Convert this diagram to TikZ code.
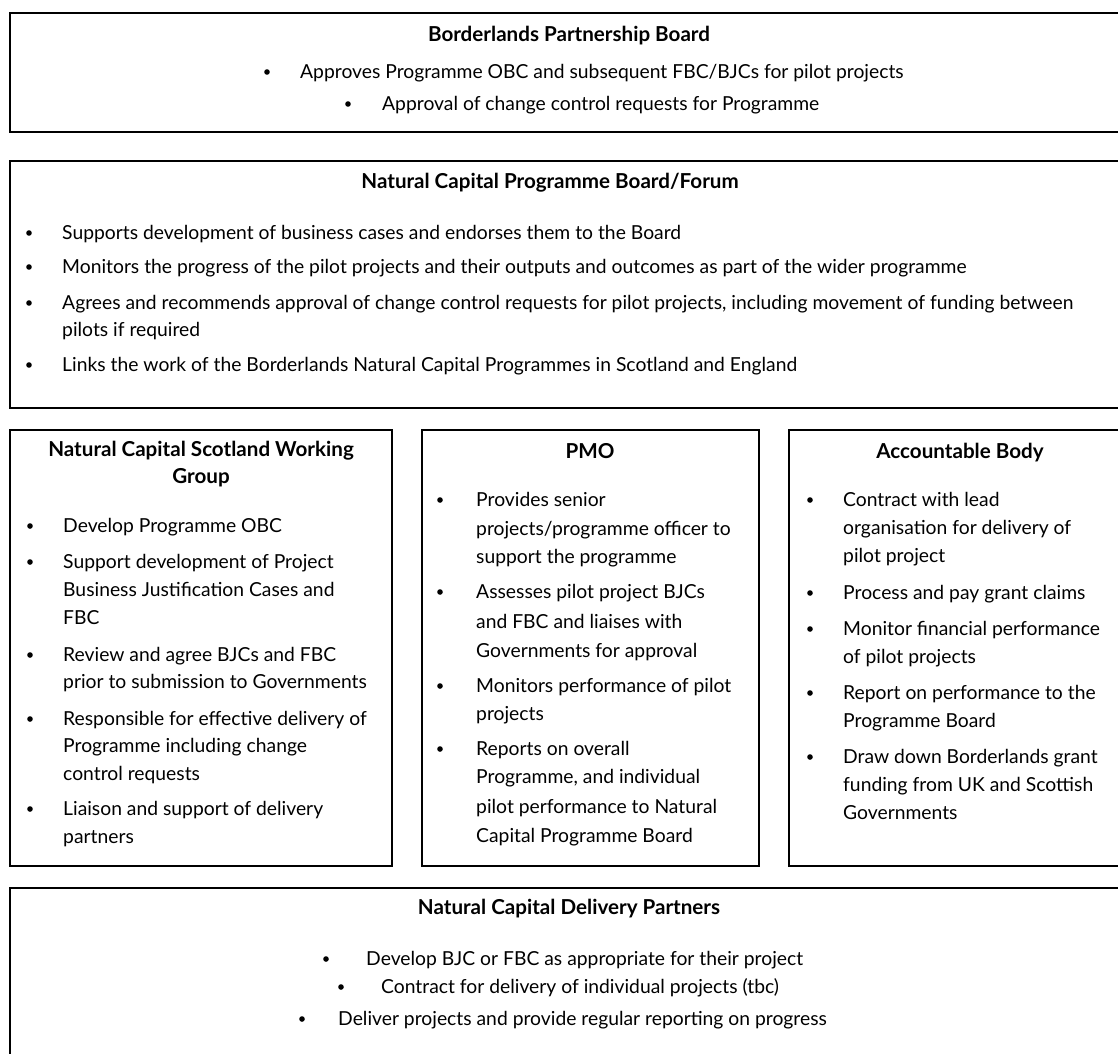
\documentclass[tikz,border=0pt]{standalone}
\usepackage{fontspec}
\setmainfont{Lato}
\newcommand{\panelfont}{\fontsize{19.3}{23}\selectfont}
\newcommand{\headfont}{\fontsize{20.6}{24}\selectfont\bfseries}
\tikzset{
	panel/.style={draw, line width=1.6pt},
	txt/.style={inner sep=0pt, anchor=base west, font=\panelfont},
	bul/.style={circle, fill, inner sep=0pt, minimum size=5.6pt, yshift=6pt},
	head/.style={inner sep=0pt, anchor=base, font=\headfont},
}
\begin{document}
\begin{tikzpicture}[x=1pt, y=-1pt]
	\useasboundingbox (0,0) rectangle (1118,1053);
	\clip (0,0) rectangle (1118,1053);

	% frames
	\draw[panel] (10,13) rectangle (1130,132);
	\draw[panel] (10,161) rectangle (1130,408);
	\draw[panel] (10,430) rectangle (392,866);
	\draw[panel] (422,430) rectangle (759,866);
	\draw[panel] (789,430) rectangle (1130,866);
	\draw[panel] (10,888) rectangle (1130,1070);

	% partnership board
	\node[head] (pbtitle) at (569,41) {Borderlands Partnership Board};
	\node[bul] (pbdot1) at (267,78) {};
	\node[txt] (pb1) at (300,78) {Approves Programme OBC and subsequent FBC/BJCs for pilot projects};
	\node[bul] (pbdot2) at (348,110) {};
	\node[txt] (pb2) at (382,110) {Approval of change control requests for Programme};

	% programme board / forum
	\node[head] (fmtitle) at (550,188) {Natural Capital Programme Board/Forum};
	\node[bul] (fmdot1) at (29,239) {};
	\node[txt] (fm1) at (62,239) {Supports development of business cases and endorses them to the Board};
	\node[bul] (fmdot2) at (29,273) {};
	\node[txt] (fm2) at (62,273) {Monitors the progress of the pilot projects and their outputs and outcomes as part of the wider programme};
	\node[bul] (fmdot3) at (29,309) {};
	\node[txt] (fm3) at (62,309) {Agrees and recommends approval of change control requests for pilot projects, including movement of funding between};
	\node[txt] (fm3b) at (62,336) {pilots if required};
	\node[bul] (fmdot4) at (29,371) {};
	\node[txt] (fm4) at (62,371) {Links the work of the Borderlands Natural Capital Programmes in Scotland and England};

	% working group
	\node[head] (wgtitle) at (201,456) {Natural Capital Scotland Working};
	\node[head] (wgtitleb) at (201,483) {Group};
	\node[bul] (wgdot1) at (30,532) {};
	\node[txt] (wg1) at (63,532) {Develop Programme OBC};
	\node[bul] (wgdot2) at (30,568) {};
	\node[txt] (wg2) at (63,568) {Support development of Project};
	\node[txt] (wg2b) at (63,596) {Business Justification Cases and};
	\node[txt] (wg2c) at (63,624) {FBC};
	\node[bul] (wgdot3) at (30,661) {};
	\node[txt] (wg3) at (63,661) {Review and agree BJCs and FBC};
	\node[txt] (wg3b) at (63,688) {prior to submission to Governments};
	\node[bul] (wgdot4) at (30,725) {};
	\node[txt] (wg4) at (63,725) {Responsible for effective delivery of};
	\node[txt] (wg4b) at (63,752) {Programme including change};
	\node[txt] (wg4c) at (63,780) {control requests};
	\node[bul] (wgdot5) at (30,815) {};
	\node[txt] (wg5) at (63,815) {Liaison and support of delivery};
	\node[txt] (wg5b) at (63,843) {partners};

	% pmo
	\node[head] (pmotitle) at (590,458) {PMO};
	\node[bul] (pmodot1) at (440,506) {};
	\node[txt] (pmo1) at (476,506) {Provides senior};
	\node[txt] (pmo1b) at (476,535) {projects/programme officer to};
	\node[txt] (pmo1c) at (476,563) {support the programme};
	\node[bul] (pmodot2) at (440,598) {};
	\node[txt] (pmo2) at (476,598) {Assesses pilot project BJCs};
	\node[txt] (pmo2b) at (476,628) {and FBC and liaises with};
	\node[txt] (pmo2c) at (476,657) {Governments for approval};
	\node[bul] (pmodot3) at (440,692) {};
	\node[txt] (pmo3) at (476,692) {Monitors performance of pilot};
	\node[txt] (pmo3b) at (476,720) {projects};
	\node[bul] (pmodot4) at (440,755) {};
	\node[txt] (pmo4) at (476,755) {Reports on overall};
	\node[txt] (pmo4b) at (476,783) {Programme, and individual};
	\node[txt] (pmo4c) at (476,813) {pilot performance to Natural};
	\node[txt] (pmo4d) at (476,842) {Capital Programme Board};

	% accountable body
	\node[head] (abtitle) at (960,458) {Accountable Body};
	\node[bul] (abdot1) at (810,506) {};
	\node[txt] (ab1) at (843,506) {Contract with lead};
	\node[txt] (ab1b) at (843,534) {organisation for delivery of};
	\node[txt] (ab1c) at (843,562) {pilot project};
	\node[bul] (abdot2) at (810,599) {};
	\node[txt] (ab2) at (843,599) {Process and pay grant claims};
	\node[bul] (abdot3) at (810,635) {};
	\node[txt] (ab3) at (843,635) {Monitor financial performance};
	\node[txt] (ab3b) at (843,663) {of pilot projects};
	\node[bul] (abdot4) at (810,699) {};
	\node[txt] (ab4) at (843,699) {Report on performance to the};
	\node[txt] (ab4b) at (843,727) {Programme Board};
	\node[bul] (abdot5) at (810,763) {};
	\node[txt] (ab5) at (843,763) {Draw down Borderlands grant};
	\node[txt] (ab5b) at (843,791) {funding from UK and Scottish};
	\node[txt] (ab5c) at (843,819) {Governments};

	% delivery partners
	\node[head] (dptitle) at (569,914) {Natural Capital Delivery Partners};
	\node[bul] (dpdot1) at (326,965) {};
	\node[txt] (dp1) at (366,965) {Develop BJC or FBC as appropriate for their project};
	\node[bul] (dpdot2) at (341,993) {};
	\node[txt] (dp2) at (381,993) {Contract for delivery of individual projects (tbc)};
	\node[bul] (dpdot3) at (302,1025) {};
	\node[txt] (dp3) at (338,1025) {Deliver projects and provide regular reporting on progress};
\end{tikzpicture}
\end{document}
